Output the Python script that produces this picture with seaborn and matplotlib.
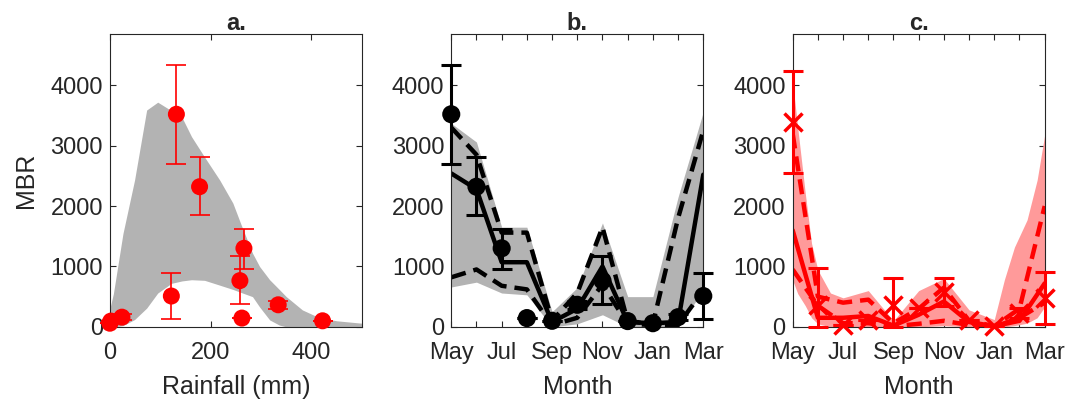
import matplotlib
matplotlib.use("Agg")
import matplotlib.pyplot as plt
import seaborn as sns
import numpy as np

# ---- observed monthly MBR (May .. Mar) ----
months = ["May", "Jun", "Jul", "Aug", "Sep", "Oct", "Nov", "Dec", "Jan", "Feb", "Mar"]
month_idx = list(range(len(months)))
rainfall = [132, 178, 266, 262, 422, 334, 258, 2, 0, 24, 122]
mbr_obs = [3520, 2320, 1300, 145, 100, 365, 765, 95, 60, 160, 510]
mbr_lo = [2700, 1850, 960, 145, 100, 300, 375, 95, 60, 120, 125]
mbr_hi = [4330, 2820, 1620, 145, 100, 430, 1165, 95, 60, 210, 895]

# ---- panel a: envelope of model curves vs rainfall ----
rain_grid = [0, 7, 26, 49, 73, 95, 122, 143, 162, 188, 218, 244, 260, 283, 297, 317, 336, 350, 382, 416, 450, 500]
env_a_hi = [300, 550, 1545, 2430, 3590, 3720, 3580, 3470, 3150, 2810, 2430, 2050, 1700, 1220, 1000, 780, 620, 500, 280, 150, 100, 60]
env_a_lo = [0, 0, 20, 120, 310, 560, 720, 760, 780, 770, 690, 620, 570, 500, 330, 115, 30, 0, 0, 0, 0, 0]

# ---- panel b: model envelope and summary lines ----
env_b_hi = [3370, 3060, 1650, 1650, 250, 650, 1720, 500, 500, 2150, 3560]
env_b_lo = [660, 740, 560, 530, 0, 50, 200, 0, 0, 0, 600]
b_solid = [2540, 2280, 1070, 1070, 80, 300, 1000, 80, 60, 80, 2520]
b_dash_hi = [3300, 2850, 1560, 1560, 100, 560, 1650, 90, 50, 1800, 3250]
b_dash_lo = [820, 950, 680, 620, 30, 150, 700, 50, 30, 30, 600]

# ---- panel c: second site ----
c_obs = [3390, 360, 30, 110, 360, 320, 580, 115, 10, 230, 480]
c_lo = [2550, 0, 30, 110, 0, 320, 350, 115, 10, 150, 50]
c_hi = [4230, 980, 30, 110, 810, 320, 810, 115, 10, 310, 900]
c_grid = [0, 0.2, 0.5, 0.75, 1, 1.5, 2, 3, 4, 5, 6, 7, 8, 8.4, 8.8, 9.3, 9.7, 10]
env_c_hi = [4050, 3300, 2210, 1380, 940, 560, 480, 600, 100, 600, 800, 280, 120, 780, 1320, 1770, 2430, 3180]
env_c_lo = [770, 550, 350, 150, 50, 0, 0, 0, 0, 0, 20, 0, 0, 0, 20, 60, 150, 330]
c_solid = [1600, 150, 150, 180, 20, 200, 420, 80, 10, 100, 720]
c_dash_hi = [3200, 500, 400, 450, 60, 300, 650, 100, 10, 300, 2000]
c_dash_lo = [950, 350, 60, 60, 10, 50, 100, 30, 0, 150, 400]

sns.set_style("ticks")
plt.rcParams["font.family"] = ["Liberation Sans", "DejaVu Sans"]
plt.rcParams["axes.edgecolor"] = "#262626"
plt.rcParams["xtick.color"] = "#262626"
plt.rcParams["ytick.color"] = "#262626"
plt.rcParams["axes.linewidth"] = 0.8

fig = plt.figure(figsize=(10.77, 4.04), dpi=100)
lefts = [0.102, 0.419, 0.736]
axes = [fig.add_axes([l, 0.191, 0.234, 0.725]) for l in lefts]

GRAY = "#b3b3b3"
PINK = "#ff9a9a"
DASH = (0, (3.4, 1.8))


def yerr(obs, lo, hi):
    obs = np.array(obs)
    return [obs - np.array(lo), np.array(hi) - obs]


def draw_err(ax, x, obs, lo, hi, color, lw):
    cont = ax.errorbar(x, obs, yerr=yerr(obs, lo, hi), fmt="none", ecolor=color,
                       elinewidth=lw, capsize=7, capthick=lw, zorder=6)
    for art in cont.lines[1]:
        art.set_clip_on(False)
    for art in cont.lines[2]:
        art.set_clip_on(False)


# panel a
ax = axes[0]
ax.fill_between(rain_grid, env_a_lo, env_a_hi, color=GRAY, linewidth=0)
draw_err(ax, rainfall, mbr_obs, mbr_lo, mbr_hi, "red", 1.2)
sns.scatterplot(x=rainfall, y=mbr_obs, ax=ax, color="red", s=150, edgecolor="none",
                zorder=7, clip_on=False)
ax.set_xlim(0, 500)
ax.set_xticks([0, 200, 400])
ax.set_xlabel("Rainfall (mm)", labelpad=8)
ax.set_ylabel("MBR", labelpad=9)
ax.set_title("a.", fontweight="bold")

# panel b
ax = axes[1]
ax.fill_between(month_idx, env_b_lo, env_b_hi, color=GRAY, linewidth=0)
sns.lineplot(x=month_idx, y=b_solid, ax=ax, color="black", linewidth=3.2)
sns.lineplot(x=month_idx, y=b_dash_hi, ax=ax, color="black", linewidth=3.2, linestyle=DASH)
sns.lineplot(x=month_idx, y=b_dash_lo, ax=ax, color="black", linewidth=3.2, linestyle=DASH)
draw_err(ax, month_idx, mbr_obs, mbr_lo, mbr_hi, "black", 2.2)
sns.scatterplot(x=month_idx, y=mbr_obs, ax=ax, color="black", s=170, edgecolor="none",
                zorder=7, clip_on=False)
ax.set_title("b.", fontweight="bold")

# panel c
ax = axes[2]
ax.fill_between(c_grid, env_c_lo, env_c_hi, color=PINK, linewidth=0)
sns.lineplot(x=month_idx, y=c_solid, ax=ax, color="red", linewidth=3.2)
sns.lineplot(x=month_idx, y=c_dash_hi, ax=ax, color="red", linewidth=3.2, linestyle=DASH)
sns.lineplot(x=month_idx, y=c_dash_lo, ax=ax, color="red", linewidth=3.2, linestyle=DASH)
draw_err(ax, month_idx, c_obs, c_lo, c_hi, "red", 2.2)
ax.plot(month_idx, c_obs, linestyle="none", marker="x", color="red",
        markersize=13, markeredgewidth=2.5, zorder=7, clip_on=False)
ax.set_title("c.", fontweight="bold")

for ax in axes[1:]:
    ax.set_xlim(0, 10)
    ax.set_xticks(month_idx)
    ax.set_xticklabels([m if i % 2 == 0 else "" for i, m in enumerate(months)])
    ax.set_xlabel("Month", labelpad=8)
    ax.set_ylabel("")

for ax in axes:
    ax.set_ylim(0, 4850)
    ax.set_yticks([0, 1000, 2000, 3000, 4000])
    ax.tick_params(direction="in", length=4, width=0.8, top=True, right=True,
                   labelsize=17)
    ax.tick_params(axis="x", pad=11)
    ax.tick_params(axis="y", pad=5)
    ax.xaxis.label.set_size(18)
    ax.yaxis.label.set_size(18)
    ax.set_title(ax.get_title(), fontweight="bold", fontsize=17, pad=3)
    for sp in ax.spines.values():
        sp.set_visible(True)
        sp.set_zorder(5)

fig.savefig("out.png", dpi=100)
